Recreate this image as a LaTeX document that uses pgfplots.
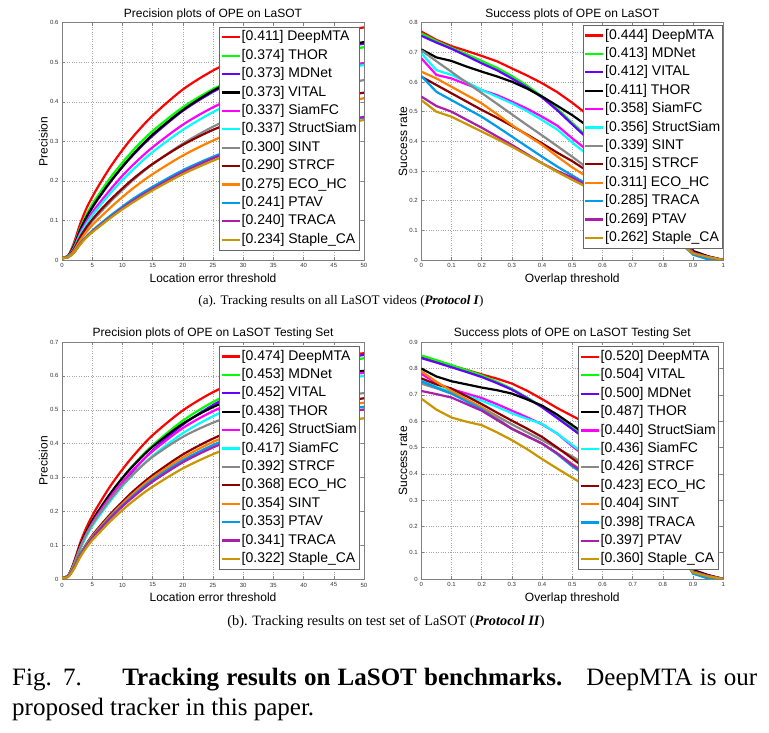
\documentclass[border=0pt]{standalone}
\usepackage{pgfplots}
\pgfplotsset{compat=1.18}
\usepackage{fontspec}
\setmainfont{Liberation Serif}
\newfontfamily\plotfont{Liberation Sans}
\definecolor{cRed}{RGB}{255,0,0}
\definecolor{cGreen}{RGB}{0,255,0}
\definecolor{cViolet}{RGB}{102,0,255}
\definecolor{cBlack}{RGB}{0,0,0}
\definecolor{cMag}{RGB}{255,0,255}
\definecolor{cCyan}{RGB}{0,255,255}
\definecolor{cGray}{RGB}{136,136,136}
\definecolor{cDRed}{RGB}{140,0,0}
\definecolor{cOrange}{RGB}{255,128,0}
\definecolor{cBlue}{RGB}{0,155,235}
\definecolor{cPurple}{RGB}{170,30,170}
\definecolor{cOlive}{RGB}{200,150,0}
\pgfplotsset{
  ope/.style={
    scale only axis, width=302pt, height=237.3pt, anchor=south west,
    axis line style={black!50, line width=0.6pt},
    tick style={black!50, line width=0.5pt},
    tick align=inside, major tick length=3pt,
    grid=major, grid style={dotted, black!35, line width=0.5pt},
    ticklabel style={font=\plotfont\fontsize{6}{6}\selectfont, text=black!80},
    /pgf/number format/assume math mode=true,
    yticklabel style={/pgf/number format/fixed, /pgf/number format/precision=1},
    legend cell align=left,
    legend style={anchor=north east, draw=black!60, fill=white, line width=0.6pt,
      font=\plotfont\fontsize{14}{14}\selectfont,
      inner xsep=1pt, inner ysep=1pt, row sep=0pt,
      nodes={inner xsep=1pt, inner ysep=2.6pt, text height=10.2pt, text depth=3pt}},
    legend image code/.code={\draw[#1] (0pt,0pt) -- (18pt,0pt);},
    every axis plot/.append style={line width=2.2pt},
  },
  prec/.style={xmin=0, xmax=50, xtick={0,5,10,15,20,25,30,35,40,45,50}},
  succ/.style={xmin=0, xmax=1, xtick={0,0.1,0.2,0.3,0.4,0.5,0.6,0.7,0.8,0.9,1}},
}
\begin{document}
\begin{tikzpicture}
\useasboundingbox (0,0) rectangle (769pt,733pt);
% ---------------- (a) precision ----------------
\begin{axis}[ope, prec, at={(62pt,473pt)}, ymin=0, ymax=0.6,
  ytick={0,0.1,0.2,0.3,0.4,0.5,0.6},
  legend style={at={(0.984,0.983)}}]
\addplot[cRed, smooth] coordinates {(0,.005)(1,.010)(2,.044)(3,.091)(4,.129)(5,.159)(6,.186)(8,.235)(10,.278)(12,.316)(15,.365)(20,.431)(25,.479)(30,.515)(35,.542)(40,.562)(45,.577)(50,.588)};
\addlegendentry{[0.411] DeepMTA}
\addplot[cGreen, smooth] coordinates {(0,.005)(1,.010)(2,.039)(3,.080)(4,.113)(5,.141)(6,.164)(8,.208)(10,.246)(12,.281)(15,.326)(20,.386)(25,.432)(30,.466)(35,.492)(40,.512)(45,.527)(50,.538)};
\addlegendentry{[0.374] THOR}
\addplot[cViolet, smooth] coordinates {(0,.005)(1,.010)(2,.036)(3,.075)(4,.106)(5,.132)(6,.155)(8,.197)(10,.235)(12,.269)(15,.314)(20,.377)(25,.425)(30,.463)(35,.492)(40,.515)(45,.533)(50,.547)};
\addlegendentry{[0.373] MDNet}
\addplot[cBlack, smooth] coordinates {(0,.005)(1,.010)(2,.036)(3,.075)(4,.107)(5,.133)(6,.156)(8,.198)(10,.236)(12,.271)(15,.317)(20,.379)(25,.428)(30,.466)(35,.496)(40,.519)(45,.537)(50,.551)};
\addlegendentry{[0.373] VITAL}
\addplot[cMag, smooth] coordinates {(0,.005)(1,.009)(2,.032)(3,.068)(4,.096)(5,.120)(6,.140)(8,.178)(10,.213)(12,.244)(15,.285)(20,.342)(25,.386)(30,.420)(35,.447)(40,.468)(45,.484)(50,.497)};
\addlegendentry{[0.337] SiamFC}
\addplot[cCyan, smooth] coordinates {(0,.005)(1,.009)(2,.030)(3,.064)(4,.090)(5,.113)(6,.132)(8,.169)(10,.202)(12,.232)(15,.273)(20,.329)(25,.374)(30,.410)(35,.438)(40,.461)(45,.479)(50,.493)};
\addlegendentry{[0.337] StructSiam}
\addplot[cGray, smooth] coordinates {(0,.005)(1,.008)(2,.026)(3,.055)(4,.078)(5,.098)(6,.115)(8,.147)(10,.177)(12,.205)(15,.242)(20,.294)(25,.337)(30,.371)(35,.399)(40,.422)(45,.440)(50,.455)};
\addlegendentry{[0.300] SINT}
\addplot[cDRed, smooth] coordinates {(0,.005)(1,.008)(2,.028)(3,.058)(4,.082)(5,.102)(6,.120)(8,.152)(10,.181)(12,.208)(15,.243)(20,.291)(25,.329)(30,.358)(35,.381)(40,.399)(45,.412)(50,.423)};
\addlegendentry{[0.290] STRCF}
\addplot[cOrange, smooth] coordinates {(0,.005)(1,.007)(2,.024)(3,.049)(4,.070)(5,.088)(6,.103)(8,.132)(10,.159)(12,.184)(15,.217)(20,.264)(25,.302)(30,.333)(35,.358)(40,.379)(45,.395)(50,.409)};
\addlegendentry{[0.275] ECO\_HC}
\addplot[cBlue, smooth] coordinates {(0,.005)(1,.007)(2,.020)(3,.042)(4,.059)(5,.074)(6,.087)(8,.112)(10,.135)(12,.157)(15,.185)(20,.227)(25,.261)(30,.289)(35,.312)(40,.331)(45,.347)(50,.360)};
\addlegendentry{[0.241] PTAV}
\addplot[cPurple, smooth] coordinates {(0,.005)(1,.007)(2,.019)(3,.040)(4,.057)(5,.071)(6,.084)(8,.108)(10,.131)(12,.152)(15,.180)(20,.222)(25,.257)(30,.286)(35,.310)(40,.331)(45,.348)(50,.362)};
\addlegendentry{[0.240] TRACA}
\addplot[cOlive, smooth] coordinates {(0,.005)(1,.007)(2,.019)(3,.039)(4,.056)(5,.070)(6,.082)(8,.106)(10,.128)(12,.148)(15,.176)(20,.217)(25,.251)(30,.280)(35,.304)(40,.323)(45,.340)(50,.354)};
\addlegendentry{[0.234] Staple\_CA}
\end{axis}
% ---------------- (a) success ----------------
\begin{axis}[ope, succ, at={(421.3pt,473pt)}, ymin=0, ymax=0.8,
  ytick={0,0.1,0.2,0.3,0.4,0.5,0.6,0.7,0.8},
  legend style={at={(0.998,0.99)}}]
\addplot[cRed] coordinates {(0,.770)(.05,.742)(.1,.721)(.15,.705)(.2,.688)(.25,.670)(.3,.646)(.35,.622)(.4,.596)(.45,.566)(.5,.530)(.55,.490)(.6,.450)(.7,.360)(.8,.250)(.85,.150)(.9,.030)(.95,.012)(1,0)};
\addlegendentry{[0.444] DeepMTA}
\addplot[cGreen] coordinates {(0,.764)(.05,.738)(.1,.715)(.15,.694)(.2,.671)(.25,.648)(.3,.620)(.35,.588)(.4,.551)(.45,.510)(.5,.462)(.55,.415)(.6,.370)(.7,.280)(.8,.180)(.85,.110)(.9,.028)(.95,.010)(1,0)};
\addlegendentry{[0.413] MDNet}
\addplot[cViolet] coordinates {(0,.756)(.05,.733)(.1,.712)(.15,.688)(.2,.663)(.25,.640)(.3,.612)(.35,.582)(.4,.548)(.45,.505)(.5,.457)(.55,.410)(.6,.365)(.7,.275)(.8,.175)(.85,.105)(.9,.027)(.95,.010)(1,0)};
\addlegendentry{[0.412] VITAL}
\addplot[cBlack] coordinates {(0,.710)(.05,.683)(.1,.671)(.15,.652)(.2,.635)(.25,.619)(.3,.601)(.35,.578)(.4,.551)(.45,.520)(.5,.488)(.55,.452)(.6,.415)(.7,.330)(.8,.225)(.85,.140)(.9,.030)(.95,.012)(1,0)};
\addlegendentry{[0.411] THOR}
\addplot[cMag] coordinates {(0,.680)(.05,.624)(.1,.612)(.15,.592)(.2,.573)(.25,.556)(.3,.534)(.35,.510)(.4,.483)(.45,.453)(.5,.410)(.55,.370)(.6,.330)(.7,.250)(.8,.160)(.85,.095)(.9,.025)(.95,.010)(1,0)};
\addlegendentry{[0.358] SiamFC}
\addplot[cCyan] coordinates {(0,.697)(.05,.640)(.1,.624)(.15,.600)(.2,.573)(.25,.551)(.3,.528)(.35,.502)(.4,.472)(.45,.440)(.5,.396)(.55,.355)(.6,.315)(.7,.235)(.8,.150)(.85,.090)(.9,.020)(.95,.003)(1,0)};
\addlegendentry{[0.356] StructSiam}
\addplot[cGray] coordinates {(0,.707)(.05,.670)(.1,.634)(.15,.598)(.2,.563)(.25,.527)(.3,.491)(.35,.455)(.4,.420)(.45,.384)(.5,.348)(.55,.310)(.6,.272)(.7,.200)(.8,.130)(.85,.080)(.9,.022)(.95,.008)(1,0)};
\addlegendentry{[0.339] SINT}
\addplot[cDRed] coordinates {(0,.618)(.05,.590)(.1,.562)(.15,.534)(.2,.506)(.25,.480)(.3,.452)(.35,.423)(.4,.393)(.45,.362)(.5,.333)(.55,.300)(.6,.268)(.7,.200)(.8,.130)(.85,.080)(.9,.022)(.95,.008)(1,0)};
\addlegendentry{[0.315] STRCF}
\addplot[cOrange] coordinates {(0,.635)(.05,.612)(.1,.584)(.15,.556)(.2,.528)(.25,.492)(.3,.455)(.35,.421)(.4,.388)(.45,.349)(.5,.312)(.55,.280)(.6,.250)(.7,.185)(.8,.120)(.85,.075)(.9,.020)(.95,.007)(1,0)};
\addlegendentry{[0.311] ECO\_HC}
\addplot[cBlue] coordinates {(0,.620)(.05,.567)(.1,.539)(.15,.511)(.2,.483)(.25,.450)(.3,.416)(.35,.382)(.4,.348)(.45,.315)(.5,.285)(.55,.255)(.6,.225)(.7,.165)(.8,.105)(.85,.065)(.9,.018)(.95,.002)(1,0)};
\addlegendentry{[0.285] TRACA}
\addplot[cPurple] coordinates {(0,.551)(.05,.519)(.1,.500)(.15,.473)(.2,.446)(.25,.417)(.3,.388)(.35,.357)(.4,.326)(.45,.300)(.5,.278)(.55,.250)(.6,.222)(.7,.165)(.8,.105)(.85,.065)(.9,.022)(.95,.010)(1,0)};
\addlegendentry{[0.269] PTAV}
\addplot[cOlive] coordinates {(0,.539)(.05,.500)(.1,.483)(.15,.458)(.2,.433)(.25,.408)(.3,.382)(.35,.354)(.4,.326)(.45,.297)(.5,.270)(.55,.245)(.6,.218)(.7,.160)(.8,.100)(.85,.062)(.9,.022)(.95,.010)(1,0)};
\addlegendentry{[0.262] Staple\_CA}
\end{axis}
% ---------------- (b) precision ----------------
\begin{axis}[ope, prec, at={(62pt,153.7pt)}, ymin=0, ymax=0.7,
  ytick={0,0.1,0.2,0.3,0.4,0.5,0.6,0.7},
  legend style={at={(0.984,0.983)}}]
\addplot[cRed, smooth] coordinates {(0,.005)(1,.010)(2,.052)(3,.107)(4,.151)(5,.187)(6,.218)(8,.275)(10,.324)(12,.368)(15,.425)(20,.498)(25,.552)(30,.591)(35,.620)(40,.641)(45,.656)(50,.667)};
\addlegendentry{[0.474] DeepMTA}
\addplot[cGreen, smooth] coordinates {(0,.005)(1,.010)(2,.047)(3,.097)(4,.137)(5,.170)(6,.199)(8,.252)(10,.299)(12,.341)(15,.395)(20,.468)(25,.523)(30,.565)(35,.597)(40,.620)(45,.638)(50,.652)};
\addlegendentry{[0.453] MDNet}
\addplot[cViolet, smooth] coordinates {(0,.005)(1,.010)(2,.043)(3,.090)(4,.128)(5,.160)(6,.187)(8,.238)(10,.284)(12,.325)(15,.380)(20,.456)(25,.514)(30,.560)(35,.596)(40,.623)(45,.645)(50,.662)};
\addlegendentry{[0.452] VITAL}
\addplot[cBlack, smooth] coordinates {(0,.005)(1,.010)(2,.048)(3,.099)(4,.139)(5,.173)(6,.201)(8,.253)(10,.299)(12,.339)(15,.391)(20,.459)(25,.508)(30,.544)(35,.571)(40,.590)(45,.604)(50,.615)};
\addlegendentry{[0.438] THOR}
\addplot[cMag, smooth] coordinates {(0,.005)(1,.010)(2,.045)(3,.094)(4,.133)(5,.165)(6,.193)(8,.243)(10,.287)(12,.327)(15,.378)(20,.446)(25,.496)(30,.533)(35,.561)(40,.582)(45,.597)(50,.609)};
\addlegendentry{[0.426] StructSiam}
\addplot[cCyan, smooth] coordinates {(0,.005)(1,.009)(2,.043)(3,.089)(4,.126)(5,.157)(6,.183)(8,.231)(10,.275)(12,.313)(15,.364)(20,.431)(25,.481)(30,.520)(35,.549)(40,.570)(45,.587)(50,.600)};
\addlegendentry{[0.417] SiamFC}
\addplot[cGray, smooth] coordinates {(0,.005)(1,.010)(2,.045)(3,.093)(4,.131)(5,.162)(6,.188)(8,.236)(10,.278)(12,.314)(15,.361)(20,.420)(25,.462)(30,.492)(35,.514)(40,.530)(45,.541)(50,.549)};
\addlegendentry{[0.392] STRCF}
\addplot[cDRed, smooth] coordinates {(0,.005)(1,.008)(2,.035)(3,.073)(4,.103)(5,.129)(6,.151)(8,.192)(10,.229)(12,.263)(15,.307)(20,.368)(25,.415)(30,.452)(35,.481)(40,.503)(45,.521)(50,.534)};
\addlegendentry{[0.368] ECO\_HC}
\addplot[cOrange, smooth] coordinates {(0,.005)(1,.007)(2,.034)(3,.071)(4,.101)(5,.126)(6,.147)(8,.187)(10,.223)(12,.256)(15,.300)(20,.359)(25,.405)(30,.441)(35,.469)(40,.491)(45,.508)(50,.521)};
\addlegendentry{[0.354] SINT}
\addplot[cBlue, smooth] coordinates {(0,.005)(1,.008)(2,.033)(3,.070)(4,.099)(5,.123)(6,.144)(8,.183)(10,.218)(12,.250)(15,.293)(20,.351)(25,.396)(30,.431)(35,.458)(40,.480)(45,.496)(50,.509)};
\addlegendentry{[0.353] PTAV}
\addplot[cPurple, smooth] coordinates {(0,.005)(1,.008)(2,.033)(3,.068)(4,.097)(5,.121)(6,.142)(8,.180)(10,.215)(12,.246)(15,.288)(20,.345)(25,.389)(30,.424)(35,.451)(40,.472)(45,.488)(50,.501)};
\addlegendentry{[0.341] TRACA}
\addplot[cOlive, smooth] coordinates {(0,.005)(1,.007)(2,.031)(3,.065)(4,.092)(5,.115)(6,.134)(8,.171)(10,.204)(12,.234)(15,.273)(20,.327)(25,.369)(30,.402)(35,.428)(40,.448)(45,.463)(50,.475)};
\addlegendentry{[0.322] Staple\_CA}
\end{axis}
% ---------------- (b) success ----------------
\begin{axis}[ope, succ, at={(421.3pt,154pt)}, height=236.7pt, ymin=0, ymax=0.9,
  ytick={0,0.1,0.2,0.3,0.4,0.5,0.6,0.7,0.8,0.9},
  legend style={at={(0.983,0.983)}}]
\addplot[cRed] coordinates {(0,.845)(.05,.830)(.1,.812)(.15,.795)(.2,.778)(.25,.762)(.3,.743)(.35,.716)(.4,.684)(.45,.650)(.5,.620)(.55,.590)(.6,.550)(.7,.450)(.8,.320)(.85,.200)(.9,.035)(.95,.015)(1,0)};
\addlegendentry{[0.520] DeepMTA}
\addplot[cGreen] coordinates {(0,.850)(.05,.832)(.1,.813)(.15,.794)(.2,.774)(.25,.750)(.3,.723)(.35,.690)(.4,.655)(.45,.615)(.5,.575)(.55,.535)(.6,.490)(.7,.390)(.8,.270)(.85,.170)(.9,.032)(.95,.013)(1,0)};
\addlegendentry{[0.504] VITAL}
\addplot[cViolet] coordinates {(0,.840)(.05,.823)(.1,.805)(.15,.787)(.2,.768)(.25,.745)(.3,.720)(.35,.688)(.4,.653)(.45,.612)(.5,.570)(.55,.528)(.6,.485)(.7,.385)(.8,.265)(.85,.165)(.9,.032)(.95,.013)(1,0)};
\addlegendentry{[0.500] MDNet}
\addplot[cBlack] coordinates {(0,.800)(.05,.770)(.1,.752)(.15,.740)(.2,.728)(.25,.718)(.3,.705)(.35,.683)(.4,.659)(.45,.625)(.5,.585)(.55,.545)(.6,.500)(.7,.405)(.8,.285)(.85,.180)(.9,.033)(.95,.014)(1,0)};
\addlegendentry{[0.487] THOR}
\addplot[cMag] coordinates {(0,.780)(.05,.745)(.1,.722)(.15,.705)(.2,.688)(.25,.665)(.3,.640)(.35,.615)(.4,.588)(.45,.553)(.5,.505)(.55,.460)(.6,.420)(.7,.330)(.8,.225)(.85,.140)(.9,.028)(.95,.012)(1,0)};
\addlegendentry{[0.440] StructSiam}
\addplot[cCyan] coordinates {(0,.755)(.05,.730)(.1,.712)(.15,.697)(.2,.678)(.25,.655)(.3,.630)(.35,.609)(.4,.590)(.45,.553)(.5,.510)(.55,.465)(.6,.420)(.7,.325)(.8,.220)(.85,.135)(.9,.022)(.95,.003)(1,0)};
\addlegendentry{[0.436] SiamFC}
\addplot[cGray] coordinates {(0,.743)(.05,.725)(.1,.705)(.15,.680)(.2,.653)(.25,.620)(.3,.588)(.35,.558)(.4,.528)(.45,.497)(.5,.466)(.55,.430)(.6,.395)(.7,.305)(.8,.205)(.85,.125)(.9,.028)(.95,.011)(1,0)};
\addlegendentry{[0.426] STRCF}
\addplot[cDRed] coordinates {(0,.763)(.05,.740)(.1,.724)(.15,.695)(.2,.665)(.25,.633)(.3,.602)(.35,.572)(.4,.540)(.45,.500)(.5,.458)(.55,.415)(.6,.380)(.7,.295)(.8,.195)(.85,.120)(.9,.027)(.95,.011)(1,0)};
\addlegendentry{[0.423] ECO\_HC}
\addplot[cOrange] coordinates {(0,.790)(.05,.750)(.1,.715)(.15,.683)(.2,.653)(.25,.612)(.3,.571)(.35,.543)(.4,.515)(.45,.478)(.5,.437)(.55,.400)(.6,.365)(.7,.280)(.8,.185)(.85,.115)(.9,.026)(.95,.010)(1,0)};
\addlegendentry{[0.404] SINT}
\addplot[cBlue] coordinates {(0,.752)(.05,.728)(.1,.705)(.15,.675)(.2,.646)(.25,.608)(.3,.571)(.35,.543)(.4,.515)(.45,.475)(.5,.428)(.55,.390)(.6,.355)(.7,.270)(.8,.180)(.85,.110)(.9,.020)(.95,.002)(1,0)};
\addlegendentry{[0.398] TRACA}
\addplot[cPurple] coordinates {(0,.715)(.05,.703)(.1,.690)(.15,.665)(.2,.640)(.25,.605)(.3,.571)(.35,.543)(.4,.515)(.45,.478)(.5,.434)(.55,.395)(.6,.360)(.7,.275)(.8,.180)(.85,.110)(.9,.027)(.95,.011)(1,0)};
\addlegendentry{[0.397] PTAV}
\addplot[cOlive] coordinates {(0,.686)(.05,.644)(.1,.614)(.15,.598)(.2,.585)(.25,.558)(.3,.528)(.35,.494)(.4,.456)(.45,.420)(.5,.385)(.55,.350)(.6,.315)(.7,.240)(.8,.160)(.85,.100)(.9,.025)(.95,.010)(1,0)};
\addlegendentry{[0.360] Staple\_CA}
\end{axis}
% ---------------- texts ----------------
\begin{scope}[every node/.style={inner sep=0pt}]
\node[anchor=base, font=\plotfont\fontsize{12}{12}\selectfont] at (213pt,715.1pt) {Precision plots of OPE on LaSOT};
\node[anchor=base, font=\plotfont\fontsize{12}{12}\selectfont] at (572.3pt,715.1pt) {Success plots of OPE on LaSOT};
\node[anchor=base, font=\plotfont\fontsize{12}{12}\selectfont] at (213pt,396.1pt) {Precision plots of OPE on LaSOT Testing Set};
\node[anchor=base, font=\plotfont\fontsize{12}{12}\selectfont] at (572.3pt,396.1pt) {Success plots of OPE on LaSOT Testing Set};
\node[anchor=base, font=\plotfont\fontsize{12}{12}\selectfont] at (213pt,450.4pt) {Location error threshold};
\node[anchor=base, font=\plotfont\fontsize{12}{12}\selectfont] at (572.3pt,450.4pt) {Overlap threshold};
\node[anchor=base, font=\plotfont\fontsize{12}{12}\selectfont] at (213pt,131.1pt) {Location error threshold};
\node[anchor=base, font=\plotfont\fontsize{12}{12}\selectfont] at (572.3pt,131.1pt) {Overlap threshold};
\node[anchor=base, rotate=90, font=\plotfont\fontsize{12}{12}\selectfont] at (47.5pt,591.6pt) {Precision};
\node[anchor=base, rotate=90, font=\plotfont\fontsize{12}{12}\selectfont] at (407pt,591.6pt) {Success rate};
\node[anchor=base, rotate=90, font=\plotfont\fontsize{12}{12}\selectfont] at (47.5pt,272.3pt) {Precision};
\node[anchor=base, rotate=90, font=\plotfont\fontsize{12}{12}\selectfont] at (407pt,272.3pt) {Success rate};
\node[anchor=base, font=\fontsize{13.1}{13.1}\selectfont] at (341pt,428pt) {(a). Tracking results on all LaSOT videos (\textbf{\textit{Protocol I}})};
\node[anchor=base, font=\fontsize{14.3}{14.3}\selectfont] at (386pt,107pt) {(b). Tracking results on test set of LaSOT (\textbf{\textit{Protocol II}})};
\node[anchor=base west, font=\fontsize{25}{25}\selectfont] at (12pt,47pt) {\makebox[745pt][s]{Fig. 7.\hspace{1.3em plus 1em}\textbf{Tracking results on LaSOT benchmarks.}\hspace{0.8em plus 0.5em}DeepMTA is our}};
\node[anchor=base west, font=\fontsize{25}{25}\selectfont] at (12pt,17pt) {proposed tracker in this paper.};
\end{scope}
\end{tikzpicture}
\end{document}
